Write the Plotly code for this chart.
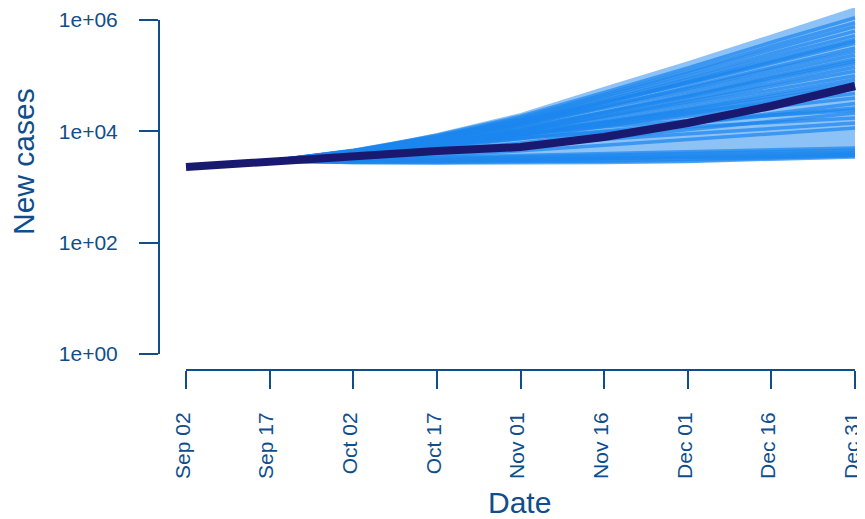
import plotly.graph_objects as go
import pandas as pd

# ---------------- data ----------------
dates = ["2020-09-02", "2020-09-17", "2020-10-02", "2020-10-17", "2020-11-01",
         "2020-11-16", "2020-12-01", "2020-12-16", "2020-12-31"]
tick_labels_x = ["Sep 02", "Sep 17", "Oct 02", "Oct 17", "Nov 01",
                 "Nov 16", "Dec 01", "Dec 16", "Dec 31"]
tick_vals_y = [1, 100, 10000, 1000000]
tick_labels_y = ["1e+00", "1e+02", "1e+04", "1e+06"]

median_cases = [2290, 2930, 3600, 4430, 5220, 7900, 14100, 28500, 65200]

traj_dates = dates[1:]
# simulated trajectories (log10 of new cases), from Sep 17 to Dec 31
traj_log10 = [
    [3.467, 3.65, 3.93, 4.27, 4.70, 5.14, 5.60, 6.04],
    [3.467, 3.64, 3.91, 4.24, 4.66, 5.08, 5.53, 5.95],
    [3.467, 3.64, 3.90, 4.21, 4.63, 5.04, 5.47, 5.88],
    [3.467, 3.63, 3.89, 4.19, 4.59, 4.98, 5.40, 5.80],
    [3.467, 3.63, 3.87, 4.17, 4.55, 4.93, 5.34, 5.72],
    [3.467, 3.62, 3.86, 4.14, 4.52, 4.89, 5.28, 5.65],
    [3.467, 3.62, 3.86, 4.13, 4.50, 4.87, 5.25, 5.62],
    [3.467, 3.66, 3.91, 4.19, 4.52, 4.86, 5.22, 5.58],
    [3.467, 3.61, 3.83, 4.10, 4.44, 4.79, 5.15, 5.50],
    [3.467, 3.65, 3.88, 4.14, 4.45, 4.77, 5.11, 5.44],
    [3.467, 3.64, 3.87, 4.11, 4.42, 4.72, 5.05, 5.37],
    [3.467, 3.60, 3.80, 4.04, 4.35, 4.66, 4.99, 5.30],
    [3.467, 3.59, 3.79, 4.02, 4.33, 4.63, 4.96, 5.26],
    [3.467, 3.63, 3.84, 4.06, 4.34, 4.62, 4.92, 5.22],
    [3.467, 3.58, 3.77, 3.99, 4.27, 4.56, 4.86, 5.15],
    [3.467, 3.61, 3.81, 4.02, 4.27, 4.53, 4.81, 5.08],
    [3.467, 3.61, 3.79, 3.99, 4.23, 4.48, 4.74, 5.00],
    [3.467, 3.57, 3.73, 3.92, 4.17, 4.42, 4.68, 4.93],
    [3.467, 3.59, 3.76, 3.94, 4.17, 4.39, 4.63, 4.87],
    [3.467, 3.59, 3.75, 3.93, 4.14, 4.36, 4.59, 4.82],
    [3.467, 3.56, 3.70, 3.87, 4.09, 4.31, 4.54, 4.76],
    [3.467, 3.64, 3.82, 3.99, 4.16, 4.33, 4.51, 4.68],
    [3.467, 3.63, 3.80, 3.95, 4.11, 4.27, 4.44, 4.60],
    [3.467, 3.54, 3.65, 3.79, 3.96, 4.14, 4.32, 4.50],
    [3.467, 3.60, 3.74, 3.88, 4.01, 4.14, 4.29, 4.42],
    [3.467, 3.65, 3.81, 3.95, 4.08, 4.19, 4.29, 4.38],
    [3.467, 3.53, 3.62, 3.73, 3.88, 4.03, 4.18, 4.33],
    [3.467, 3.62, 3.76, 3.88, 3.99, 4.08, 4.16, 4.24],
    [3.467, 3.56, 3.66, 3.76, 3.86, 3.95, 4.05, 4.15],
    [3.467, 3.51, 3.57, 3.65, 3.75, 3.85, 3.96, 4.06],
    [3.467, 3.50, 3.53, 3.56, 3.60, 3.63, 3.67, 3.70],
    [3.467, 3.49, 3.51, 3.54, 3.57, 3.60, 3.63, 3.66],
    [3.467, 3.47, 3.49, 3.51, 3.54, 3.57, 3.60, 3.63],
    [3.467, 3.46, 3.47, 3.49, 3.52, 3.54, 3.57, 3.60],
    [3.467, 3.45, 3.46, 3.48, 3.50, 3.52, 3.55, 3.58],
    [3.467, 3.44, 3.44, 3.45, 3.47, 3.50, 3.53, 3.56],
    [3.467, 3.44, 3.43, 3.43, 3.44, 3.46, 3.50, 3.54],
]
upper_log10 = [3.467, 3.66, 3.97, 4.33, 4.80, 5.26, 5.74, 6.23]
lower_log10 = [3.467, 3.44, 3.43, 3.43, 3.43, 3.44, 3.48, 3.53]

# ---------------- layout geometry (pixels of the 865x519 window) ----------------
WIN_W, WIN_H = 865, 519
OFF = 8                      # default page margin around the plot div
W, H = WIN_W - OFF, WIN_H - OFF
AXIS_COL = "#104E8B"
FAN_COL = "rgba(28,134,238,0.5)"
LINE_COL = "rgba(28,134,238,0.72)"
MED_COL = "#191970"
FONT = "Liberation Sans, Arial, sans-serif"

x_left_px, x_right_px = 186, 855      # Sep 02 .. Dec 31
y_top_px, y_bot_px = 20, 354          # 1e6 .. 1e0
x_axis_px = 370
y_axis_px = 159


def fx(p):
    return (p - OFF) / W


def fy(p):
    return 1 - (p - OFF) / H


d0 = pd.Timestamp(dates[0])
d1 = pd.Timestamp(dates[-1])
px_per_day = (x_right_px - x_left_px) / ((d1 - d0) / pd.Timedelta(days=1))
xr0 = d0 - pd.Timedelta(days=(x_left_px - OFF) / px_per_day)
xr1 = d1 + pd.Timedelta(days=(WIN_W - x_right_px) / px_per_day)
px_per_dec = (y_bot_px - y_top_px) / 6.0
yr0 = -(WIN_H - y_bot_px) / px_per_dec
yr1 = (y_bot_px - OFF) / px_per_dec

fig = go.Figure()

# fan envelope
fig.add_trace(go.Scatter(
    x=traj_dates + traj_dates[::-1],
    y=[10 ** v for v in upper_log10] + [10 ** v for v in lower_log10[::-1]],
    fill="toself", fillcolor=FAN_COL, line=dict(width=0),
    mode="lines", hoverinfo="skip", showlegend=False))

for tr in traj_log10:
    fig.add_trace(go.Scatter(
        x=traj_dates, y=[10 ** v for v in tr], mode="lines",
        line=dict(color=LINE_COL, width=3.5), hoverinfo="skip", showlegend=False))

fig.add_trace(go.Scatter(
    x=dates, y=median_cases, mode="lines",
    line=dict(color=MED_COL, width=8), showlegend=False))

# invisible trace for the decorative axes
fig.add_trace(go.Scatter(
    x=[dates[0]], y=[1], xaxis="x2", yaxis="y2", mode="markers",
    marker=dict(opacity=0), hoverinfo="skip", showlegend=False))

fig.update_layout(
    width=W, height=H,
    margin=dict(l=0, r=0, t=0, b=0, pad=0, autoexpand=False),
    paper_bgcolor="white", plot_bgcolor="rgba(0,0,0,0)",
    xaxis=dict(domain=[0, 1], range=[xr0, xr1], visible=False, type="date",
               automargin=False),
    yaxis=dict(domain=[0, 1], range=[yr0, yr1], visible=False, type="log",
               automargin=False),
    xaxis2=dict(
        domain=[fx(x_left_px), fx(x_right_px)], range=[dates[0], dates[-1]],
        type="date", anchor="free", position=fy(x_axis_px),
        tickvals=dates, ticktext=tick_labels_x, tickangle=-90,
        ticks="outside", ticklen=18, tickwidth=2, tickcolor=AXIS_COL,
        showline=True, linecolor=AXIS_COL, linewidth=2,
        showgrid=False, zeroline=False,
        tickfont=dict(family=FONT, size=21, color=AXIS_COL),
        ticklabelstandoff=15, ticklabelshift=-3, ticklabeloverflow="allow",
        automargin=False),
    yaxis2=dict(
        domain=[fy(y_bot_px), fy(y_top_px)], range=[0, 6], type="log",
        anchor="free", position=fx(y_axis_px),
        tickvals=tick_vals_y, ticktext=tick_labels_y,
        ticks="outside", ticklen=19, tickwidth=2, tickcolor=AXIS_COL,
        showline=True, linecolor=AXIS_COL, linewidth=2,
        showgrid=False, zeroline=False,
        tickfont=dict(family=FONT, size=21, color=AXIS_COL),
        ticklabelstandoff=17, ticklabeloverflow="allow", automargin=False),
    annotations=[
        dict(text="New cases", x=fx(23), y=fy(162), xref="paper", yref="paper",
             textangle=-90, showarrow=False, xanchor="center", yanchor="middle",
             font=dict(family=FONT, size=30, color=AXIS_COL)),
        dict(text="Date", x=fx(520), y=fy(502), xref="paper", yref="paper",
             showarrow=False, xanchor="center", yanchor="middle",
             font=dict(family=FONT, size=30, color=AXIS_COL)),
    ],
)

fig.write_html("out.html")
